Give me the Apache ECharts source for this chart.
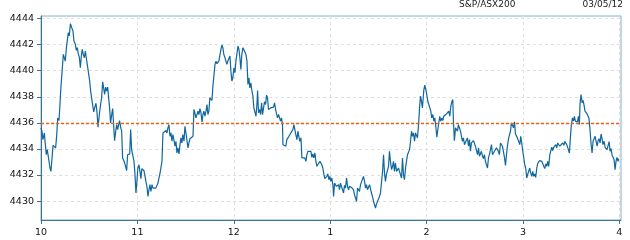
<!DOCTYPE html>
<html>
<head>
<meta charset="utf-8">
<script src="https://cdn.jsdelivr.net/npm/echarts@6/dist/echarts.min.js"></script>
<style>
html,body{margin:0;padding:0;background:#fff;}
#chart{width:630px;height:240px;}
</style>
</head>
<body>
<div id="chart"></div>
<script>
// minutes since 10:00
const minutes = [
0,0.6,1.2,2.1,2.7,3.3,3.9,4.8,5.6,6.2,7.3,7.5,8.3,9.1,9.8,10.4,11.2,11.8,12.4,13.1,13.9,14.7,15.1,15.8,16.4,17.0,17.6,18.3,19.1,19.9,
20.5,21.4,22.0,22.6,23.2,23.9,24.5,25.1,25.7,26.3,27.0,27.6,28.2,28.8,29.7,30.3,30.9,31.5,32.1,32.8,33.4,34.2,34.8,35.5,36.3,37.1,37.7,38.4,39.0,39.6,
40.2,40.9,41.5,42.1,42.7,43.3,44.0,44.6,45.2,45.8,46.5,47.1,47.7,48.3,48.9,49.6,50.2,50.8,51.4,52.1,52.7,53.3,53.9,54.5,55.2,55.8,56.4,57.0,
57.9,58.5,59.1,59.7,60.3,61.0,61.6,62.2,62.8,63.5,64.1,64.7,65.3,65.9,66.6,67.2,67.8,68.4,69.1,69.7,70.3,70.9,71.5,72.2,72.8,73.4,74.0,74.7,75.3,75.9,
76.5,77.1,77.8,78.4,79.0,79.6,80.3,80.9,81.5,82.1,82.7,83.4,84.0,84.6,85.2,85.9,86.5,87.1,87.7,88.3,89.0,89.6,90.2,90.8,91.5,92.1,92.7,93.3,93.9,94.6,
95.2,95.8,96.4,97.1,97.7,98.3,98.9,99.5,100.2,100.8,101.4,102.0,102.7,103.3,103.9,104.5,105.1,105.8,106.4,107.0,107.6,108.3,108.9,109.5,110.1,110.7,111.4,112.0,112.6,113.2,
113.8,114.5,115.1,115.7,116.3,117.0,117.6,118.2,
118.8,119.4,120.1,120.7,121.3,121.9,122.6,123.2,123.8,124.4,125.0,125.7,126.3,126.9,127.5,128.2,128.8,129.4,130.0,130.6,131.3,131.9,132.5,133.1,133.8,134.4,134.8,135.4,136.0,136.7,
137.3,137.9,138.5,139.1,139.8,140.4,141.0,141.6,142.3,142.9,143.5,144.1,144.7,145.4,146.0,146.6,147.2,147.9,148.5,149.1,149.7,150.3,150.6,151.2,151.8,152.4,153.0,153.7,154.3,154.9,
155.5,156.2,156.8,157.4,158.0,158.6,159.3,159.9,160.5,161.1,161.8,162.4,163.0,163.6,164.2,164.9,165.5,166.1,166.7,167.3,168.0,168.6,169.2,169.8,170.5,171.1,171.7,172.3,172.9,173.6,
174.2,174.8,175.4,176.1,176.7,177.3,177.9,178.5,
179.2,179.8,180.4,181.0,181.7,182.1,182.7,183.3,183.9,184.6,185.2,185.8,186.4,187.0,187.7,188.3,188.9,189.5,190.2,190.8,191.4,192.0,192.6,193.3,193.9,194.5,195.1,195.8,196.4,197.0,
197.6,198.2,198.9,199.5,200.1,200.7,201.4,202.0,202.6,203.2,203.8,204.5,205.1,205.7,206.3,207.0,207.6,208.2,208.8,209.4,210.1,210.7,211.3,211.9,212.6,213.2,213.8,214.4,215.0,215.7,
216.3,216.9,217.5,218.2,218.8,219.4,220.0,220.6,221.3,221.9,222.5,223.1,223.8,224.4,225.0,225.6,226.2,226.9,227.5,228.1,228.7,229.4,230.0,230.6,231.2,231.8,232.5,233.1,233.7,234.3,
235.0,235.6,236.2,236.8,237.4,
238.3,238.9,239.5,240.1,240.8,241.4,242.0,242.6,243.2,243.9,244.5,245.1,245.7,246.4,247.0,247.6,248.2,248.8,249.5,250.1,250.7,251.3,252.0,252.6,253.2,253.8,254.4,255.1,255.7,256.3,
256.7,257.3,258.0,258.6,259.2,259.8,260.5,261.1,261.7,262.3,262.9,263.6,264.2,264.8,265.4,266.1,266.7,267.3,267.9,268.5,269.2,269.8,270.4,271.0,271.7,272.3,272.9,273.5,274.1,274.8,
275.4,276.0,276.6,277.3,277.9,278.5,279.1,279.7,280.4,281.0,281.6,282.2,282.9,283.5,284.1,284.7,285.3,286.0,286.6,287.2,287.8,288.5,289.1,289.7,290.3,290.9,291.6,292.2,292.8,293.4,
294.1,294.7,295.3,295.9,296.5,
297.4,298.0,298.6,299.2,299.9,300.5,301.1,301.7,302.3,303.0,303.6,304.2,304.8,305.5,306.1,306.7,307.3,307.9,308.6,309.2,309.8,310.4,311.1,311.7,312.3,312.9,313.5,314.2,314.8,315.4,
316.0,316.7,317.3,317.9,318.5,319.1,319.8,320.4,321.0,321.6,322.3,322.9,323.5,324.1,324.7,325.4,326.0,326.6,327.2,327.9,328.5,328.9,329.5,330.1,330.8,331.4,332.0,332.6,333.2,333.9,
334.5,335.1,335.5,336.1,336.8,337.4,338.0,338.6,339.3,339.9,340.5,341.1,341.7,342.4,343.0,343.6,344.2,344.9,345.5,346.1,346.7,347.3,348.0,348.6,349.2,349.8,350.5,351.1,351.7,352.3,
352.9,353.6,354.2,354.8,355.4,356.1,356.7,357.3,357.9,358.5,359.2,359.6
];
const prices = [
4435.62,4435.36,4434.72,4435.23,4434.33,4433.56,4433.95,4433.87,4432.54,4432.28,4432.28,4434.28,4434.21,4434.08,4435.10,4436.38,4436.18,4437.41,4438.74,4438.82,4441.26,4441.38,4440.74,4441.77,4441.72,4442.92,4442.67,4443.62,4443.31,4443.05,
4442.28,4442.03,4441.56,4441.77,4441.31,4441.00,4440.23,4441.13,4441.64,4441.26,4441.00,4441.51,4441.00,4440.49,4440.36,4439.21,4438.44,4437.92,4437.41,4436.85,4437.15,4437.51,4436.90,4435.67,4436.64,4437.41,4437.92,4439.15,4439.08,4438.18,
4438.74,4438.44,4438.74,4437.92,4437.15,4436.00,4436.64,4437.10,4435.87,4434.64,4435.36,4435.87,4435.49,4435.87,4436.18,4435.62,4435.41,4433.31,4433.26,4432.92,4432.79,4432.33,4433.56,4433.69,4433.62,4435.49,4433.95,4434.08,
4433.05,4432.03,4430.62,4431.51,4432.54,4432.79,4432.28,4431.72,4432.49,4432.59,4432.33,4432.33,4431.51,4431.13,4430.36,4430.87,4431.26,4430.74,4431.26,4431.00,4431.13,4431.00,4431.00,4431.00,4431.38,4431.77,4432.08,4432.15,4433.05,4435.23,
4435.36,4435.36,4435.41,4435.23,4435.62,4435.87,4434.97,4435.23,4434.59,4435.10,4434.72,4434.21,4434.59,4433.69,4434.08,4433.62,4434.33,4434.85,4434.46,4435.10,4434.59,4435.74,4435.23,4435.36,4434.08,4434.46,4434.79,4434.90,4434.85,4434.97,
4437.03,4436.77,4436.38,4436.64,4436.90,4436.64,4437.10,4436.85,4436.08,4436.64,4436.90,4436.51,4436.90,4437.41,4436.64,4436.90,4437.92,4438.05,4437.72,4438.82,4438.82,4440.49,4440.74,4440.54,4440.62,4440.74,4440.62,4441.64,4441.97,4441.77,
4441.26,4441.00,4441.00,4440.49,4440.74,4440.74,4441.13,4439.97,
4439.21,4439.46,4440.23,4439.85,4440.74,4441.26,4441.90,4441.64,4441.00,4440.10,4441.26,4441.77,4441.77,4441.90,4441.26,4440.74,4438.95,4439.46,4438.69,4439.08,4438.44,4438.05,4437.15,4437.03,4436.51,4437.41,4438.49,4436.77,4437.03,4436.64,
4437.54,4436.64,4436.51,4437.62,4437.41,4438.13,4437.92,4437.03,4436.90,4437.15,4437.03,4437.28,4437.21,4437.54,4437.03,4436.90,4436.38,4436.64,4436.77,4436.13,4436.38,4435.87,4434.33,4434.21,4434.46,4434.21,4434.72,4434.85,4434.97,4434.90,
4435.23,4435.36,4435.49,4435.87,4435.49,4435.10,4434.72,4435.36,4434.97,4434.59,4434.85,4433.31,4433.18,4433.26,4433.31,4433.05,4433.56,4433.82,4433.82,4433.69,4433.82,4433.36,4433.62,4433.31,4433.69,4433.05,4432.67,4432.67,4432.54,4433.05,
4433.05,4432.79,4432.54,4432.03,4431.72,4431.77,4431.90,4432.08,
4431.64,4431.90,4431.51,4431.77,4431.21,4430.36,4431.38,4431.26,4431.13,4431.00,4431.26,4430.87,4431.38,4431.13,4431.26,4430.62,4431.21,4431.00,4431.77,4431.13,4430.87,4431.13,4431.00,4431.05,4431.00,4430.87,4430.49,4430.23,4429.97,4431.00,
4431.13,4430.74,4431.26,4431.38,4431.38,4431.90,4431.51,4431.00,4431.26,4430.87,4430.74,4431.26,4431.13,4430.62,4430.36,4429.97,4429.72,4429.46,4429.77,4429.97,4430.10,4430.36,4430.62,4430.74,4432.28,4433.56,4432.15,4431.51,4432.03,4431.90,
4432.67,4433.82,4433.05,4432.41,4432.67,4433.05,4432.28,4432.92,4432.28,4432.15,4432.54,4432.28,4432.41,4431.77,4433.31,4432.03,4431.64,4432.54,4432.67,4433.56,4433.44,4433.95,4434.59,4435.36,4434.97,4435.23,4434.59,4435.23,4435.10,4434.85,
4435.87,4437.15,4438.05,4437.67,4437.15,
4438.56,4438.90,4438.56,4438.18,4437.62,4437.41,4437.15,4436.90,4436.38,4436.64,4436.13,4436.38,4435.74,4434.90,4435.49,4436.00,4436.51,4436.13,4436.38,4436.18,4436.51,4436.38,4436.64,4436.51,4436.69,4436.90,4436.51,4437.28,4437.62,4437.79,
4436.13,4434.64,4435.62,4435.49,4435.36,4435.87,4435.92,4435.36,4435.23,4434.59,4434.85,4434.33,4434.21,4434.46,4434.85,4434.21,4434.72,4433.82,4434.46,4434.59,4434.64,4434.59,4434.21,4434.08,4433.56,4434.08,4433.44,4433.31,4433.82,4433.44,
4433.26,4433.56,4433.05,4433.18,4432.54,4433.31,4433.56,4433.69,4434.33,4433.56,4433.69,4433.82,4433.69,4434.08,4434.21,4433.82,4433.56,4434.46,4434.33,4434.21,4433.82,4433.31,4432.74,4433.56,4434.21,4434.72,4435.10,4435.36,4436.00,4436.08,
4435.62,4436.08,4435.15,4435.23,4434.85,
4434.85,4434.33,4434.97,4434.46,4433.82,4433.95,4432.79,4432.54,4431.77,4432.08,4432.03,4432.54,4432.15,4431.90,4432.28,4431.90,4432.08,4431.82,4432.54,4432.92,4433.05,4433.10,4433.00,4433.05,4432.92,4433.05,4432.49,4432.85,4432.67,4433.05,
4432.67,4433.56,4433.44,4434.13,4433.87,4434.13,4434.08,4434.33,4434.08,4434.46,4434.59,4434.21,4434.33,4434.28,4434.46,4434.28,4434.59,4434.46,4434.33,4434.08,4434.03,4433.69,4434.85,4435.87,4436.38,4436.13,4436.51,4436.13,4436.26,4436.08,
4436.51,4435.87,4437.46,4438.18,4437.54,4437.72,4437.36,4436.90,4436.90,4436.69,4436.59,4436.33,4435.49,4434.33,4433.69,4434.59,4434.46,4434.97,4434.85,4434.21,4434.59,4434.79,4434.46,4435.15,4434.79,4434.33,4434.59,4434.13,4434.21,4433.95,
4434.08,4434.56,4433.82,4434.03,4433.56,4433.62,4433.18,4432.41,4433.05,4433.36,4433.05,4433.26
];
const hourTicks = [0, 60, 120, 180, 240, 300, 360];
const hourLabels = ['10', '11', '12', '1', '2', '3', '4'];
const yTicks = [4430, 4432, 4434, 4436, 4438, 4440, 4442, 4444];
const prevClose = 4435.95;
const sessionSpan = [0, 361];
const titleTexts = ['S&P/ASX200', '03/05/12'];

const chart = echarts.init(document.getElementById('chart'), null, {renderer: 'canvas'});
const font = 'DejaVu Sans';
const axisColor = '#3b7395';
const gridLine = {show: true, lineStyle: {color: '#e0e0e0', type: [3, 3], width: 1}};

chart.setOption({
  animation: false,
  backgroundColor: '#ffffff',
  title: [
    {text: titleTexts[0], left: 459, top: 0, padding: 0,
     textStyle: {fontFamily: font, fontSize: 9, fontWeight: 'normal', color: '#222'}},
    {text: titleTexts[1], right: 7, top: 0, padding: 0,
     textStyle: {fontFamily: font, fontSize: 9, fontWeight: 'normal', color: '#222'}}
  ],
  grid: {left: 41, right: 9, top: 16, bottom: 20, show: true, borderColor: '#86adc4', borderWidth: 1, containLabel: false},
  xAxis: {
    type: 'value', min: sessionSpan[0], max: sessionSpan[1],
    axisLine: {show: true, lineStyle: {color: axisColor, width: 1}},
    axisTick: {show: true, length: 4, customValues: hourTicks, lineStyle: {color: axisColor}},
    axisLabel: {customValues: hourTicks, margin: 8, color: '#111', fontFamily: font, fontSize: 9.5,
      formatter: function (v) { const i = hourTicks.indexOf(Math.round(v)); return i >= 0 ? hourLabels[i] : ''; }},
    splitLine: gridLine
  },
  yAxis: {
    type: 'value', min: 4428.55, max: 4444.2,
    axisLine: {show: true, lineStyle: {color: axisColor, width: 1}},
    axisTick: {show: true, length: 4, customValues: yTicks, lineStyle: {color: axisColor}},
    axisLabel: {customValues: yTicks, margin: 7, color: '#111', fontFamily: font, fontSize: 9.5,
      formatter: function (v) { return String(Math.round(v)); }},
    splitLine: gridLine
  },
  series: [
    {
      name: 'index',
      type: 'line',
      data: minutes.map(function (m, i) { return [m, prices[i]]; }),
      showSymbol: false,
      symbol: 'none',
      z: 2,
      lineStyle: {color: '#0f679d', width: 1.2}
    },
    {
      name: 'previous close',
      type: 'line',
      data: sessionSpan.map(function (m) { return [m, prevClose]; }),
      showSymbol: false,
      symbol: 'none',
      z: 5,
      silent: true,
      lineStyle: {color: '#e8601c', type: [3, 2], width: 1.6, opacity: 1}
    }
  ]
});
</script>
</body>
</html>
